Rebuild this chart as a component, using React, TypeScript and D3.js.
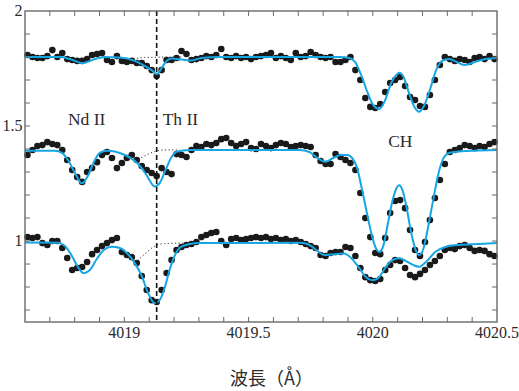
import React, { useEffect } from "react";
import * as d3 from "d3";

// ---- data ----
const WL_START = 4018.61;
const WL_STEP = 0.02;

const topFlux = [
  1.809, 1.800, 1.796, 1.796, 1.804, 1.830, 1.800, 1.817, 1.791, 1.787,
  1.783, 1.783, 1.791, 1.809, 1.813, 1.817, 1.787, 1.778, 1.804, 1.783,
  1.778, 1.783, 1.774, 1.774, 1.761, 1.743, 1.717, 1.743, 1.787, 1.787,
  1.796, 1.826, 1.813, 1.787, 1.791, 1.796, 1.804, 1.800, 1.809, 1.835,
  1.800, 1.796, 1.804, 1.796, 1.800, 1.791, 1.800, 1.804, 1.809, 1.817,
  1.796, 1.804, 1.796, 1.787, 1.817, 1.800, 1.804, 1.822, 1.809, 1.800,
  1.796, 1.800, 1.778, 1.778, 1.787, 1.800, 1.743, 1.700, 1.622, 1.583,
  1.578, 1.596, 1.648, 1.687, 1.700, 1.713, 1.674, 1.626, 1.613, 1.587,
  1.583, 1.635, 1.700, 1.765, 1.800, 1.791, 1.783, 1.791, 1.787, 1.778,
  1.796, 1.800, 1.791, 1.804, 1.791,
];

const midFlux = [
  1.374, 1.396, 1.413, 1.417, 1.430, 1.422, 1.417, 1.396, 1.352, 1.309,
  1.278, 1.257, 1.300, 1.317, 1.343, 1.374, 1.387, 1.361, 1.317, 1.339,
  1.361, 1.374, 1.352, 1.326, 1.309, 1.296, 1.283, 1.317, 1.300, 1.291,
  1.378, 1.374, 1.365, 1.396, 1.413, 1.409, 1.422, 1.417, 1.426, 1.443,
  1.448, 1.426, 1.413, 1.422, 1.430, 1.404, 1.400, 1.422, 1.413, 1.404,
  1.417, 1.426, 1.422, 1.409, 1.413, 1.417, 1.413, 1.409, 1.374, 1.348,
  1.335, 1.335, 1.378, 1.365, 1.352, 1.339, 1.309, 1.209, 1.100, 1.017,
  0.948, 0.943, 1.013, 1.122, 1.174, 1.178, 1.143, 1.048, 0.961, 0.935,
  0.996, 1.091, 1.187, 1.265, 1.335, 1.387, 1.396, 1.404, 1.417, 1.413,
  1.404, 1.413, 1.409, 1.422, 1.430,
];

const botFlux = [
  1.017, 1.013, 1.017, 0.991, 0.983, 1.000, 1.000, 0.970, 0.926, 0.874,
  0.883, 0.887, 0.909, 0.943, 0.961, 0.978, 0.991, 1.004, 1.013, 0.952,
  0.939, 0.930, 0.904, 0.848, 0.787, 0.743, 0.735, 0.787, 0.861, 0.917,
  0.961, 0.974, 0.983, 0.987, 0.996, 1.017, 1.026, 1.035, 1.039, 1.000,
  0.983, 1.009, 1.013, 1.004, 1.009, 1.013, 1.017, 1.013, 1.017, 1.009,
  1.013, 1.004, 1.009, 1.000, 1.004, 0.996, 0.987, 0.978, 0.970, 0.939,
  0.935, 0.948, 0.952, 0.952, 0.974, 0.970, 0.935, 0.883, 0.843, 0.830,
  0.826, 0.835, 0.874, 0.896, 0.917, 0.913, 0.883, 0.852, 0.843, 0.857,
  0.874, 0.896, 0.913, 0.935, 0.961, 0.970, 0.965, 0.978, 0.983, 0.970,
  0.957, 0.961, 0.957, 0.943, 0.935,
];

// synthetic fits (blue)
const topFitWl = [
  4018.600, 4018.741, 4018.781, 4018.833, 4018.881, 4018.921, 4018.982, 4019.042, 4019.082, 4019.110,
  4019.130, 4019.150, 4019.170, 4019.190, 4019.231, 4019.271, 4019.311, 4019.383, 4019.865, 4019.905,
  4019.929, 4019.953, 4019.978, 4020.002, 4020.026, 4020.050, 4020.074, 4020.098, 4020.106, 4020.122,
  4020.146, 4020.170, 4020.186, 4020.206, 4020.231, 4020.255, 4020.279, 4020.307, 4020.339, 4020.371,
  4020.411, 4020.452, 4020.500,
];
const topFitFlux = [
  1.800, 1.800, 1.791, 1.773, 1.791, 1.800, 1.798, 1.783, 1.761, 1.743,
  1.725, 1.752, 1.783, 1.793, 1.789, 1.785, 1.796, 1.800, 1.800, 1.796,
  1.778, 1.722, 1.648, 1.591, 1.574, 1.613, 1.687, 1.726, 1.732, 1.717,
  1.643, 1.578, 1.562, 1.587, 1.661, 1.743, 1.783, 1.791, 1.778, 1.765,
  1.778, 1.791, 1.796,
];

const midFitWl = [
  4018.600, 4018.720, 4018.749, 4018.773, 4018.801, 4018.829, 4018.853, 4018.877, 4018.901, 4018.929,
  4018.961, 4019.002, 4019.042, 4019.070, 4019.094, 4019.122, 4019.142, 4019.166, 4019.190, 4019.210,
  4019.263, 4019.704, 4019.745, 4019.777, 4019.809, 4019.841, 4019.869, 4019.897, 4019.917, 4019.937,
  4019.957, 4019.978, 4019.998, 4020.014, 4020.026, 4020.042, 4020.062, 4020.082, 4020.094, 4020.106,
  4020.118, 4020.134, 4020.154, 4020.174, 4020.186, 4020.202, 4020.222, 4020.243, 4020.263, 4020.283,
  4020.307, 4020.347, 4020.407, 4020.500,
];
const midFitFlux = [
  1.393, 1.393, 1.383, 1.352, 1.296, 1.251, 1.283, 1.343, 1.383, 1.393,
  1.389, 1.374, 1.348, 1.317, 1.278, 1.237, 1.252, 1.309, 1.365, 1.388,
  1.396, 1.396, 1.387, 1.361, 1.345, 1.361, 1.374, 1.374, 1.361, 1.317,
  1.222, 1.113, 1.017, 0.965, 0.952, 0.978, 1.083, 1.187, 1.226, 1.243,
  1.226, 1.157, 1.039, 0.957, 0.939, 0.961, 1.057, 1.178, 1.287, 1.357,
  1.383, 1.389, 1.393, 1.396,
];

const botFitWl = [
  4018.600, 4018.733, 4018.761, 4018.789, 4018.813, 4018.837, 4018.861, 4018.889, 4018.917, 4018.949,
  4018.982, 4019.014, 4019.042, 4019.070, 4019.094, 4019.122, 4019.142, 4019.162, 4019.182, 4019.202,
  4019.222, 4019.263, 4019.303, 4019.704, 4019.737, 4019.777, 4019.805, 4019.845, 4019.885, 4019.913,
  4019.945, 4019.973, 4019.998, 4020.022, 4020.050, 4020.078, 4020.106, 4020.134, 4020.162, 4020.186,
  4020.214, 4020.251, 4020.295, 4020.347, 4020.427, 4020.500,
];
const botFitFlux = [
  0.994, 0.993, 0.978, 0.935, 0.887, 0.860, 0.874, 0.922, 0.961, 0.975,
  0.970, 0.943, 0.904, 0.848, 0.778, 0.729, 0.743, 0.796, 0.874, 0.935,
  0.970, 0.987, 0.991, 0.992, 0.987, 0.957, 0.939, 0.943, 0.946, 0.926,
  0.883, 0.843, 0.830, 0.839, 0.883, 0.917, 0.925, 0.913, 0.896, 0.888,
  0.909, 0.952, 0.975, 0.983, 0.987, 0.991,
];

// fits without the Th II line (dotted)
const topNoThWl = [4019.022, 4019.082, 4019.231];
const topNoThFlux = [1.789, 1.798, 1.800];
const midNoThWl = [4019.042, 4019.082, 4019.122, 4019.162, 4019.222];
const midNoThFlux = [1.348, 1.370, 1.389, 1.396, 1.396];
const botNoThWl = [4019.042, 4019.082, 4019.122, 4019.162, 4019.243];
const botNoThFlux = [0.904, 0.943, 0.978, 0.989, 0.991];

const thLineWl = 4019.13;

const xTickLabels = [4019, 4019.5, 4020, 4020.5];
const yTickLabels = [1, 1.5, 2];
const labelTexts = ["Nd II", "Th II", "CH"];
const labelWl = [4018.773, 4019.154, 4020.062];
const labelFlux = [1.504, 1.504, 1.409];
const xTitle = "波長（Å）";

// ---- layout ----
const W = 519;
const H = 391;
const L = 25, R = 497, T = 11, B = 322;

const BLUE = "#17a6e4";
const AXIS = "#6a6a6a";
const TEXT = "#2b2b2b";

export default function App() {
  useEffect(() => {
    document.body.style.margin = "0";
  }, []);

  const x = d3.scaleLinear().domain([4018.6, 4020.5]).range([L, R]);
  const y = d3.scaleLinear().domain([0.648, 2]).range([B, T]);

  const line = d3
    .line<[number, number]>()
    .x((d) => x(d[0]))
    .y((d) => y(d[1]))
    .curve(d3.curveMonotoneX);

  const zip = (a: number[], b: number[]) => a.map((v, i) => [v, b[i]] as [number, number]);

  const spectra = [topFlux, midFlux, botFlux];
  const fits = [zip(topFitWl, topFitFlux), zip(midFitWl, midFitFlux), zip(botFitWl, botFitFlux)];
  const noTh = [zip(topNoThWl, topNoThFlux), zip(midNoThWl, midNoThFlux), zip(botNoThWl, botNoThFlux)];

  const xMinor = d3.range(4018.7, 4020.45, 0.1);
  const yMinor = d3.range(0.7, 1.95, 0.1);
  const tick = 5;

  return (
    <svg width={W} height={H} style={{ display: "block" }} xmlns="http://www.w3.org/2000/svg">
      <rect x={0} y={0} width={W} height={H} fill="#fff" />
      {/* dots */}
      {spectra.map((s, k) => (
        <g key={"s" + k} fill="#1a1a1a">
          {s.map((v, i) => (
            <circle key={i} cx={x(WL_START + i * WL_STEP)} cy={y(v)} r={3.3} />
          ))}
        </g>
      ))}
      {/* dotted no-Th fits */}
      {noTh.map((d, k) => (
        <path key={"n" + k} d={line(d) || ""} fill="none" stroke="#333" strokeWidth={1} strokeDasharray="1.2,2.4" />
      ))}
      {/* fits */}
      {fits.map((d, k) => (
        <path key={"f" + k} d={line(d) || ""} fill="none" stroke={BLUE} strokeWidth={2} />
      ))}
      {/* Th line */}
      <line x1={x(thLineWl)} x2={x(thLineWl)} y1={T} y2={B} stroke="#111" strokeWidth={1.6} strokeDasharray="5,3" />
      {/* frame */}
      <rect x={L} y={T} width={R - L} height={B - T} fill="none" stroke={AXIS} strokeWidth={1.4} />
      {/* ticks */}
      {xMinor.map((v, i) => (
        <g key={"xt" + i} stroke={AXIS} strokeWidth={1}>
          <line x1={x(v)} x2={x(v)} y1={B} y2={B - tick} />
          <line x1={x(v)} x2={x(v)} y1={T} y2={T + tick} />
        </g>
      ))}
      {yMinor.map((v, i) => (
        <g key={"yt" + i} stroke={AXIS} strokeWidth={1}>
          <line x1={L} x2={L + tick} y1={y(v)} y2={y(v)} />
          <line x1={R} x2={R - tick} y1={y(v)} y2={y(v)} />
        </g>
      ))}
      {/* tick labels */}
      {xTickLabels.map((v) => (
        <text key={"xl" + v} x={x(v)} y={B + 16} textAnchor="middle" fontFamily="'Liberation Serif', serif" fontSize={16} fill={TEXT}>
          {String(v)}
        </text>
      ))}
      {yTickLabels.map((v) => (
        <text key={"yl" + v} x={L - 2.5} y={y(v) + 5} textAnchor="end" fontFamily="'Liberation Serif', serif" fontSize={16} fill={TEXT}>
          {String(v)}
        </text>
      ))}
      {/* annotations */}
      {labelTexts.map((t, i) => (
        <text key={"a" + i} x={x(labelWl[i])} y={y(labelFlux[i])} fontFamily="'Liberation Serif', serif" fontSize={17.5} fill={TEXT}>
          {t}
        </text>
      ))}
      {/* x title */}
      <text x={230} y={385} fontFamily="'Noto Sans CJK JP', sans-serif" fontSize={18} fill={TEXT}>
        {xTitle}
      </text>
    </svg>
  );
}
